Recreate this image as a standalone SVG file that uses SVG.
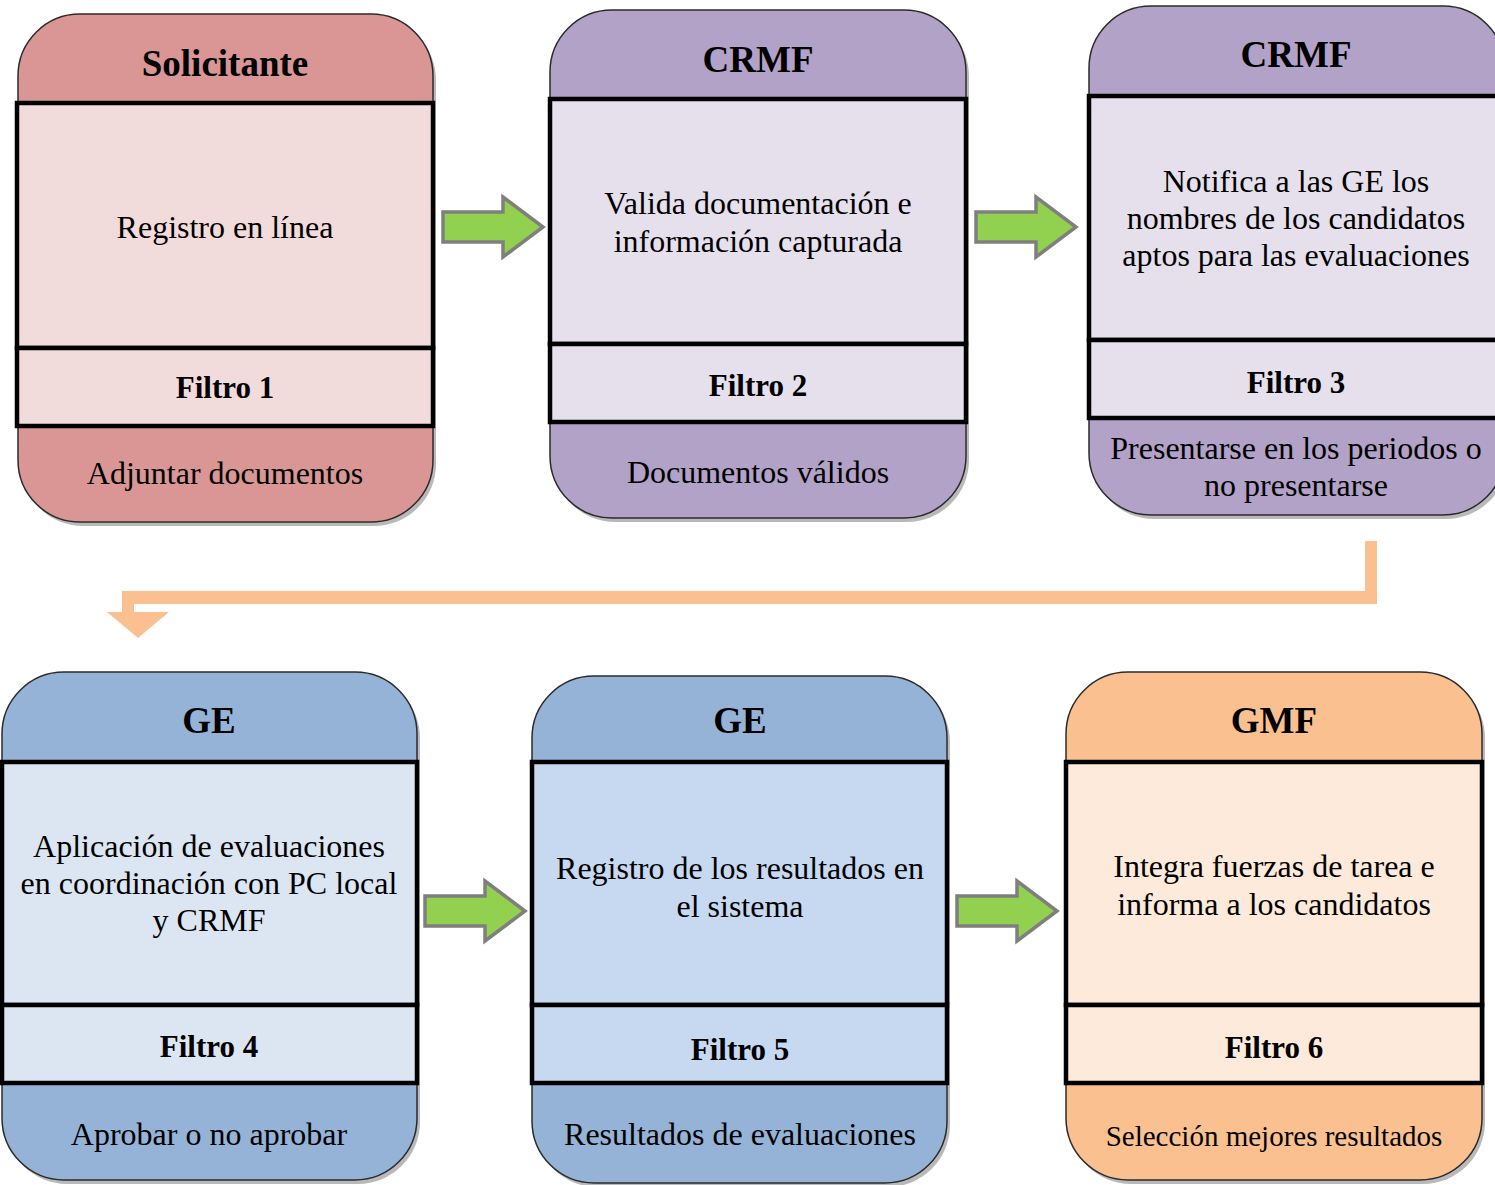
<svg xmlns="http://www.w3.org/2000/svg" width="1495" height="1185" viewBox="0 0 1495 1185">
<style>
.card{stroke:#2b2b2b;stroke-width:1.5}
.shadow{fill:#7f7f7f;opacity:0.55}
.inner{stroke:#000;stroke-width:4.5}
.t{font-family:"Liberation Serif","Times New Roman",serif;text-anchor:middle;fill:#000}
.title{font-size:37px;font-weight:bold}
.body{font-size:32px}
.filt{font-size:31px;font-weight:bold}
.arrow{fill:#92D050;stroke:#7F7F7F;stroke-width:3.5}
.red{fill:#D99694}.redL{fill:#F2DCDB}
.pur{fill:#B2A2C7}.purL{fill:#E5E0EC}
.blu{fill:#95B3D7}.bluL{fill:#DCE6F2}.bluM{fill:#C6D9F1}
.ora{fill:#FAC090}.oraL{fill:#FDEADA}
</style>

<g id="connectors">
  <path class="arrow" d="M443,212 H503 V197 L543,227 L503,257 V242 H443 Z"/>
  <path class="arrow" d="M976,212 H1036 V197 L1076,227 L1036,257 V242 H976 Z"/>
  <path class="arrow" d="M425,896 H485 V881 L525,911 L485,941 V926 H425 Z"/>
  <path class="arrow" d="M957,896 H1017 V881 L1057,911 L1017,941 V926 H957 Z"/>
  <path fill="#FAC090" d="M1365,541 H1377 V604 H134 V612 H169 L138,638 L107,612 H122 V591 H1365 Z"/>
</g>

<g id="node1">
  <rect class="shadow" x="21" y="18" width="415" height="508" rx="62"/>
  <rect class="card red" x="18" y="14" width="415" height="508" rx="62"/>
  <rect class="inner redL" x="17" y="103" width="416" height="245"/>
  <rect class="inner redL" x="17" y="348" width="416" height="78"/>
  <text class="t title" x="225" y="76">Solicitante</text>
  <text class="t body" x="225" y="238">Registro en línea</text>
  <text class="t filt" x="225" y="398">Filtro 1</text>
  <text class="t body" x="225" y="484">Adjuntar documentos</text>
</g>

<g id="node2">
  <rect class="shadow" x="553" y="14" width="416" height="508" rx="62"/>
  <rect class="card pur" x="550" y="10" width="416" height="508" rx="62"/>
  <rect class="inner purL" x="550" y="99" width="416" height="245"/>
  <rect class="inner purL" x="550" y="344" width="416" height="78"/>
  <text class="t title" x="758" y="72">CRMF</text>
  <text class="t body" x="758" y="214">Valida documentación e</text>
  <text class="t body" x="758" y="252">información capturada</text>
  <text class="t filt" x="758" y="396">Filtro 2</text>
  <text class="t body" x="758" y="483">Documentos válidos</text>
</g>

<g id="node3">
  <rect class="shadow" x="1092" y="10" width="416" height="509" rx="62"/>
  <rect class="card pur" x="1089" y="6" width="416" height="509" rx="62"/>
  <rect class="inner purL" x="1089" y="96" width="416" height="244"/>
  <rect class="inner purL" x="1089" y="340" width="416" height="78"/>
  <text class="t title" x="1296" y="67">CRMF</text>
  <text class="t body" x="1296" y="192">Notifica a las GE los</text>
  <text class="t body" x="1296" y="229">nombres de los candidatos</text>
  <text class="t body" x="1296" y="266">aptos para las evaluaciones</text>
  <text class="t filt" x="1296" y="393">Filtro 3</text>
  <text class="t body" x="1296" y="459">Presentarse en los periodos o</text>
  <text class="t body" x="1296" y="496">no presentarse</text>
</g>

<g id="node4">
  <rect class="shadow" x="5" y="676" width="415" height="508" rx="62"/>
  <rect class="card blu" x="2" y="672" width="415" height="508" rx="62"/>
  <rect class="inner bluL" x="2" y="762" width="415" height="243"/>
  <rect class="inner bluL" x="2" y="1005" width="415" height="78"/>
  <text class="t title" x="209" y="733">GE</text>
  <text class="t body" x="209" y="857">Aplicación de evaluaciones</text>
  <text class="t body" x="209" y="894">en coordinación con PC local</text>
  <text class="t body" x="209" y="931">y CRMF</text>
  <text class="t filt" x="209" y="1057">Filtro 4</text>
  <text class="t body" x="209" y="1145">Aprobar o no aprobar</text>
</g>

<g id="node5">
  <rect class="shadow" x="535" y="680" width="415" height="507" rx="62"/>
  <rect class="card blu" x="532" y="676" width="415" height="507" rx="62"/>
  <rect class="inner bluM" x="532" y="762" width="415" height="243"/>
  <rect class="inner bluM" x="532" y="1005" width="415" height="78"/>
  <text class="t title" x="740" y="733">GE</text>
  <text class="t body" x="740" y="879">Registro de los resultados en</text>
  <text class="t body" x="740" y="917">el sistema</text>
  <text class="t filt" x="740" y="1060">Filtro 5</text>
  <text class="t body" x="740" y="1145">Resultados de evaluaciones</text>
</g>

<g id="node6">
  <rect class="shadow" x="1069" y="676" width="416" height="508" rx="62"/>
  <rect class="card ora" x="1066" y="672" width="416" height="508" rx="62"/>
  <rect class="inner oraL" x="1066" y="762" width="416" height="243"/>
  <rect class="inner oraL" x="1066" y="1005" width="416" height="78"/>
  <text class="t title" x="1274" y="733">GMF</text>
  <text class="t body" x="1274" y="877">Integra fuerzas de tarea e</text>
  <text class="t body" x="1274" y="915">informa a los candidatos</text>
  <text class="t filt" x="1274" y="1058">Filtro 6</text>
  <text class="t body" x="1274" y="1146" style="font-size:29px">Selección mejores resultados</text>
</g>
</svg>
